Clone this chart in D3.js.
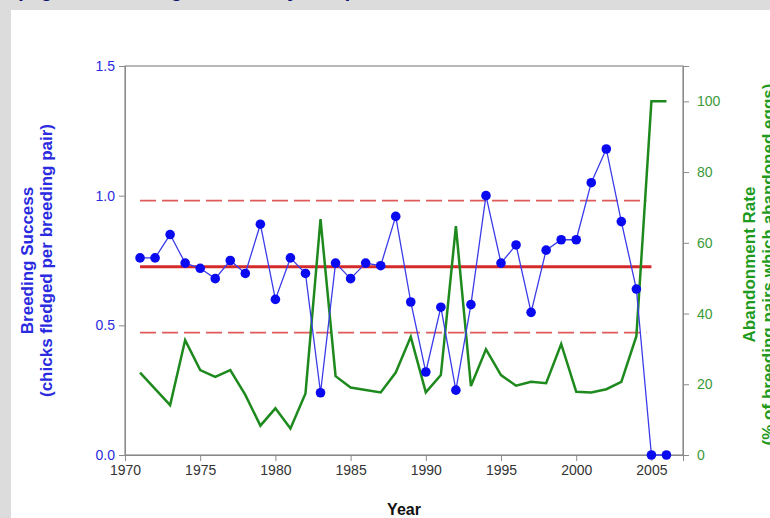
<!DOCTYPE html>
<html>
<head>
<meta charset="utf-8">
<script src="https://cdn.jsdelivr.net/npm/d3@7"></script>
<style>
  html, body { margin: 0; padding: 0; background: #dcdcdc; }
  svg { display: block; font-family: "Liberation Sans", Arial, sans-serif; }
</style>
</head>
<body>
<svg id="chart" width="770" height="518"></svg>
<script>
// years 1971 - 2006
const years = d3.range(1971, 2007);

// breeding success (chicks fledged per breeding pair)
const success = [0.76, 0.76, 0.85, 0.74, 0.72, 0.68, 0.75, 0.70, 0.89, 0.60,
                 0.76, 0.70, 0.24, 0.74, 0.68, 0.74, 0.73, 0.92, 0.59, 0.32,
                 0.57, 0.25, 0.58, 1.00, 0.74, 0.81, 0.55, 0.79, 0.83, 0.83,
                 1.05, 1.18, 0.90, 0.64, 0.00, 0.00];

// abandonment rate (% of breeding pairs which abandoned eggs)
const abandon = [23.3, 18.7, 14.1, 32.5, 24.0, 22.1, 24.0, 17.0, 8.3, 13.2,
                 7.5, 17.4, 66.7, 22.3, 19.1, 18.4, 17.7, 23.3, 33.4, 17.7,
                 22.6, 64.7, 19.5, 29.9, 22.6, 19.6, 20.7, 20.3, 31.4, 17.9,
                 17.7, 18.6, 20.7, 33.6, 100, 100];

// mean and +/- limits of breeding success
const meanLine = 0.726;
const limitLines = [0.981, 0.472];
const refSpan = [1971, 2005];

const xTicks = [1970, 1975, 1980, 1985, 1990, 1995, 2000, 2005];
const leftTicks = [0.0, 0.5, 1.0, 1.5];
const rightTicks = [0, 20, 40, 60, 80, 100];

const svg = d3.select('#chart');
const margin = { left: 125, right: 87, top: 66, bottom: 63 };
const W = 770, H = 518;
const x0 = margin.left, x1 = W - margin.right;
const y0 = H - margin.bottom, y1 = margin.top;

// white panel and the title above it, clipped by the top edge as in the source
svg.append('rect').attr('x', 11).attr('y', 10).attr('width', W - 11).attr('height', H - 10)
    .attr('fill', 'white');
svg.append('text').attr('x', 16).attr('y', -3)
    .attr('fill', '#0a0a70').style('font-size', '20px').style('font-weight', 'bold')
    .text('(Figure: Breeding Success by Year)');

const x = d3.scaleLinear().domain([1970, 2007.1]).range([x0, x1]);
const yL = d3.scaleLinear().domain([0, 1.5]).range([y0, y1]);
const yR = d3.scaleLinear().domain([0, 110]).range([y0, y1]);

const axisColor = '#8a8a8a';

// box
svg.append('rect').attr('x', x0).attr('y', y1).attr('width', x1 - x0).attr('height', y0 - y1)
    .attr('fill', 'none').attr('stroke', axisColor).attr('stroke-width', 1.2);

// x axis
const gx = svg.append('g').attr('transform', `translate(0,${y0})`)
    .call(d3.axisBottom(x).tickValues(xTicks).tickFormat(d3.format('d')).tickSize(6).tickPadding(4));
gx.select('.domain').attr('stroke', axisColor);
gx.selectAll('.tick line').attr('stroke', axisColor);
gx.selectAll('.tick text').attr('fill', '#333').style('font-size', '14px');

// left axis
const gl = svg.append('g').attr('transform', `translate(${x0},0)`)
    .call(d3.axisLeft(yL).tickValues(leftTicks).tickFormat(d3.format('.1f')).tickSize(6).tickPadding(4));
gl.select('.domain').attr('stroke', axisColor);
gl.selectAll('.tick line').attr('stroke', axisColor);
gl.selectAll('.tick text').attr('fill', '#2a2ae0').style('font-size', '14px');

// right axis
const gr = svg.append('g').attr('transform', `translate(${x1},0)`)
    .call(d3.axisRight(yR).tickValues(rightTicks).tickSize(6).tickPadding(8));
gr.select('.domain').attr('stroke', axisColor);
gr.selectAll('.tick line').attr('stroke', axisColor);
gr.selectAll('.tick text').attr('fill', '#3a9a3a').style('font-size', '14px');

// reference lines
limitLines.forEach(v => {
  svg.append('line')
      .attr('x1', x(refSpan[0])).attr('x2', x(refSpan[1]) - 5)
      .attr('y1', yL(v)).attr('y2', yL(v))
      .attr('stroke', '#e05a5a').attr('stroke-width', 1.8)
      .attr('stroke-dasharray', '16,6');
});
svg.append('line')
    .attr('x1', x(refSpan[0])).attr('x2', x(refSpan[1]))
    .attr('y1', yL(meanLine)).attr('y2', yL(meanLine))
    .attr('stroke', '#d42a2a').attr('stroke-width', 3);

// abandonment rate line
const greenLine = d3.line().x((d, i) => x(years[i])).y(d => yR(d));
svg.append('path').datum(abandon)
    .attr('d', greenLine)
    .attr('fill', 'none').attr('stroke', '#1e8a1e').attr('stroke-width', 2.5)
    .attr('stroke-linejoin', 'miter');

// breeding success line + dots
const blueLine = d3.line().x((d, i) => x(years[i])).y(d => yL(d));
svg.append('path').datum(success)
    .attr('d', blueLine)
    .attr('fill', 'none').attr('stroke', '#3b3bea').attr('stroke-width', 1.3);
svg.selectAll('circle.pt').data(success).enter()
    .append('circle').attr('class', 'pt')
    .attr('cx', (d, i) => x(years[i])).attr('cy', d => yL(d))
    .attr('r', 4.8).attr('fill', '#0a0af0');

// axis titles
const cy = (y0 + y1) / 2;
const leftTitle = svg.append('text')
    .attr('transform', `translate(33,${cy}) rotate(-90)`)
    .attr('text-anchor', 'middle').attr('fill', '#2a2ae0')
    .style('font-size', '17px').style('font-weight', 'bold');
leftTitle.append('tspan').attr('x', 0).attr('dy', 0).text('Breeding Success');
leftTitle.append('tspan').attr('x', 0).attr('dy', 19).text('(chicks fledged per breeding pair)');

const rightTitle = svg.append('text')
    .attr('transform', `translate(755,${cy + 4}) rotate(-90)`)
    .attr('text-anchor', 'middle').attr('fill', '#1e9a1e')
    .style('font-size', '17px').style('font-weight', 'bold');
rightTitle.append('tspan').attr('x', 0).attr('dy', 0).text('Abandonment Rate');
rightTitle.append('tspan').attr('x', 0).attr('dy', 19).text('(% of breeding pairs which abandoned eggs)');

svg.append('text').attr('x', (x0 + x1) / 2).attr('y', 515)
    .attr('text-anchor', 'middle').attr('fill', '#111')
    .style('font-size', '16px').style('font-weight', 'bold')
    .text('Year');
</script>
</body>
</html>
